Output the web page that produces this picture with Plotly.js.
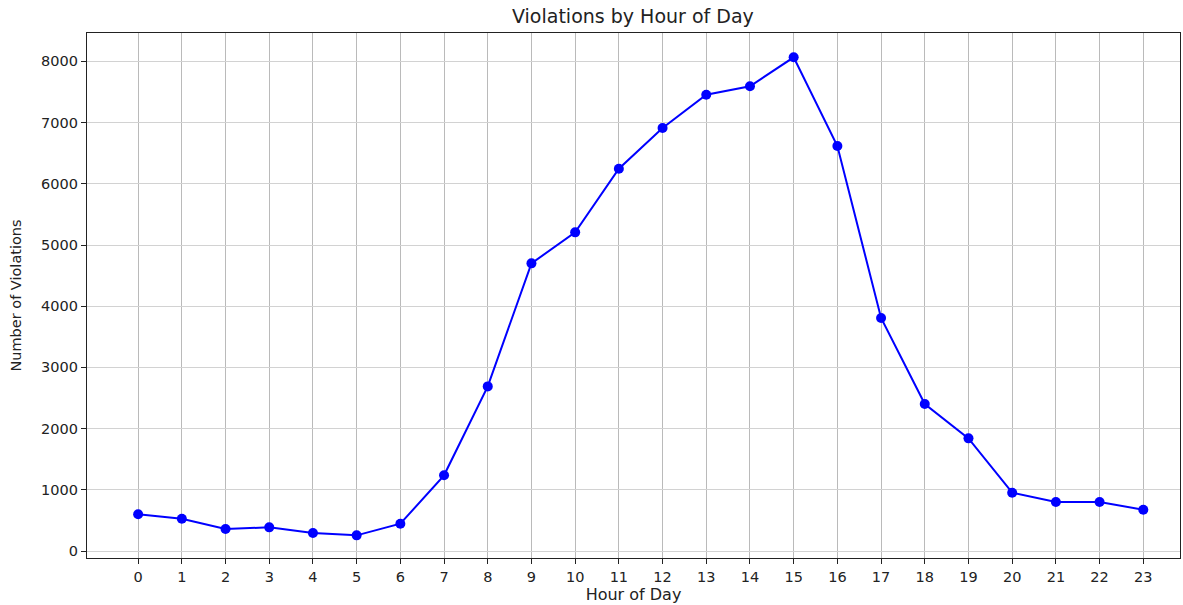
<!DOCTYPE html>
<html>
<head>
<meta charset="utf-8">
<script src="https://cdn.plot.ly/plotly-3.0.1.min.js"></script>
<style>html,body{margin:0;padding:0;background:#fff;}#chart{width:1183px;height:605px;}</style>
</head>
<body>
<div id="chart"></div>
<script>
const hours = [0,1,2,3,4,5,6,7,8,9,10,11,12,13,14,15,16,17,18,19,20,21,22,23];
const violations = [600,528,360,387,294,256,446,1237,2690,4700,5207,6247,6912,7456,7593,8067,6618,3807,2402,1841,953,800,800,675];
const yTicks = [0,1000,2000,3000,4000,5000,6000,7000,8000];

const tickFont = {family: 'DejaVu Sans, sans-serif', color: '#222', size: 14.5};

Plotly.newPlot('chart', [{
  x: hours, y: violations, type: 'scatter', mode: 'lines+markers',
  line: {color: '#0000ff', width: 2},
  marker: {color: '#0000ff', size: 10, symbol: 'circle'},
  hoverinfo: 'x+y'
}], {
  width: 1183, height: 605,
  margin: {l: 87, r: 3, t: 33, b: 47, pad: 0},
  paper_bgcolor: '#fff', plot_bgcolor: '#fff',
  showlegend: false,
  font: tickFont,
  title: {text: 'Violations by Hour of Day', font: {family: 'DejaVu Sans, sans-serif', size: 19, color: '#222'}, x: 0.535, xanchor: 'center', y: 18, yanchor: 'middle', yref: 'container'},
  xaxis: {
    range: [-1.17, 23.84], tickmode: 'array', tickvals: hours, ticktext: hours.map(String),
    showgrid: true, gridcolor: '#bababa', gridwidth: 1, zeroline: false,
    showline: true, linecolor: '#222', linewidth: 1.2, mirror: true,
    ticks: 'outside', ticklen: 5, tickcolor: '#222', tickfont: tickFont,
    title: {text: 'Hour of Day', font: {family: 'DejaVu Sans, sans-serif', size: 16, color: '#222'}, standoff: 2}
  },
  yaxis: {
    range: [-114, 8464], tickmode: 'array', tickvals: yTicks, ticktext: yTicks.map(String),
    showgrid: true, gridcolor: '#d2d2d2', gridwidth: 1, zeroline: false,
    showline: true, linecolor: '#222', linewidth: 1.2, mirror: true,
    ticks: 'outside', ticklen: 5, tickcolor: '#222', tickfont: tickFont,
    title: {text: 'Number of Violations', font: {family: 'DejaVu Sans, sans-serif', size: 14.5, color: '#222'}, standoff: 16}
  }
}, {displayModeBar: false, staticPlot: true});
</script>
</body>
</html>
